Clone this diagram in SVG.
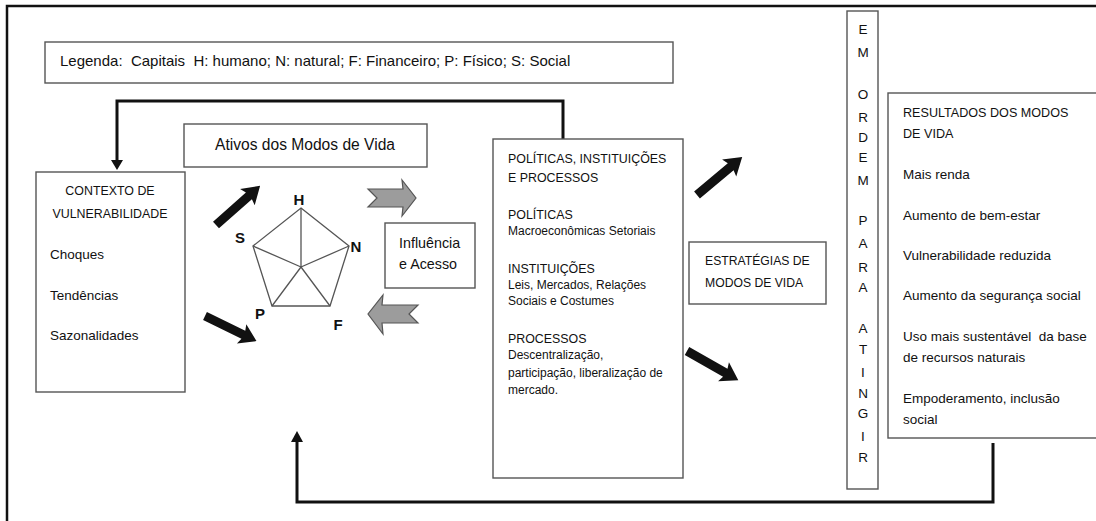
<svg xmlns="http://www.w3.org/2000/svg" width="1096" height="521" viewBox="0 0 1096 521">
<style>
.box{fill:#fff;stroke:#555;stroke-width:1.4}
.t{font-family:"Liberation Sans",Arial,sans-serif;font-size:13.5px;fill:#111}
.u{font-size:12.4px}
.s{font-size:12px}
.b{font-family:"Liberation Sans",Arial,sans-serif;font-size:15px;font-weight:bold;fill:#111}
.fb{fill:none;stroke:#111;stroke-width:3}
.blk{fill:#111}
.gr{fill:#9c9c9c;stroke:#555;stroke-width:1.2}
.pg{fill:none;stroke:#555;stroke-width:1.3}
</style>
<defs>
<path id="blk" d="M0,-4.5 L44,-4.5 L42,-11 L59,0 L42,11 L44,4.5 L0,4.5Z"/>
</defs>
<rect width="1096" height="521" fill="#fff"/>
<g id="frame"><path d="M7,521 L7,6 L1096,6" fill="none" stroke="#111" stroke-width="2.5"/></g>

<g id="connectors">
<path class="fb" d="M563,139 L563,101 L117,101 L117,160"/>
<path d="M111,160 L123,160 L117,170Z" fill="#111"/>
<path class="fb" d="M993,443 L993,502 L297,502 L297,442"/>
<path d="M291,442 L303,442 L297,431Z" fill="#111"/>
<use href="#blk" class="blk" transform="translate(216,225) rotate(-41.6)"/>
<use href="#blk" class="blk" transform="translate(205,316) rotate(26) scale(0.97)"/>
<use href="#blk" class="blk" transform="translate(697,195) rotate(-40)"/>
<use href="#blk" class="blk" transform="translate(687,351) rotate(29.6)"/>
<polygon class="gr" points="368,189 403,189 402,180 416,198 402,216 403,207 368,207 377,198"/>
<polygon class="gr" points="418,305 382,305 383,295 368,314 383,334 382,323 418,323 409,314"/>
</g>

<g id="legenda">
<rect class="box" x="45" y="42" width="628" height="41"/>
<text class="t" x="60" y="66" style="font-size:15px;white-space:pre" xml:space="preserve">Legenda:  Capitais  H: humano; N: natural; F: Financeiro; P: Físico; S: Social</text>
</g>

<g id="ativos">
<rect class="box" x="184" y="124" width="243" height="43"/>
<text class="t" x="305" y="150" text-anchor="middle" style="font-size:15.6px">Ativos dos Modos de Vida</text>
</g>

<g id="contexto">
<rect class="box" x="36" y="172" width="149" height="220"/>
<text class="t u" x="110" y="195" text-anchor="middle">CONTEXTO DE</text>
<text class="t u" x="110" y="218" text-anchor="middle">VULNERABILIDADE</text>
<text class="t" x="50" y="259">Choques</text>
<text class="t" x="50" y="300">Tendências</text>
<text class="t" x="50" y="340">Sazonalidades</text>
</g>

<g id="pentagono">
<polygon class="pg" points="301,208 349,246 330,306 272,306 253,246"/>
<path class="pg" d="M301,267 L301,208 M301,267 L349,246 M301,267 L330,306 M301,267 L272,306 M301,267 L253,246"/>
<text class="b" x="299" y="205" text-anchor="middle">H</text>
<text class="b" x="356" y="252" text-anchor="middle">N</text>
<text class="b" x="338" y="330" text-anchor="middle">F</text>
<text class="b" x="260" y="319" text-anchor="middle">P</text>
<text class="b" x="240" y="243" text-anchor="middle">S</text>
</g>

<g id="influencia">
<rect class="box" x="385" y="223" width="90" height="65"/>
<text class="t" x="399" y="248" style="font-size:14.3px">Influência</text>
<text class="t" x="399" y="269" style="font-size:14.3px">e Acesso</text>
</g>

<g id="politicas">
<rect class="box" x="493" y="139" width="190" height="339"/>
<text class="t u" x="508" y="163">POLÍTICAS, INSTITUIÇÕES</text>
<text class="t u" x="508" y="182">E PROCESSOS</text>
<text class="t u" x="508" y="219">POLÍTICAS</text>
<text class="t s" x="508" y="235">Macroeconômicas Setoriais</text>
<text class="t u" x="508" y="273">INSTITUIÇÕES</text>
<text class="t s" x="508" y="289">Leis, Mercados, Relações</text>
<text class="t s" x="508" y="305">Sociais e Costumes</text>
<text class="t u" x="508" y="343">PROCESSOS</text>
<text class="t s" x="508" y="359">Descentralização,</text>
<text class="t s" x="508" y="377">participação, liberalização de</text>
<text class="t s" x="508" y="394">mercado.</text>
</g>

<g id="estrategias">
<rect class="box" x="689" y="242" width="137" height="62"/>
<text class="t" x="705" y="265" style="font-size:12.2px">ESTRATÉGIAS DE</text>
<text class="t" x="705" y="287" style="font-size:12.2px">MODOS DE VIDA</text>
</g>

<g id="em-ordem">
<rect class="box" x="847" y="11" width="31" height="478"/>
<g class="t" text-anchor="middle">
<text x="863" y="34">E</text>
<text x="863" y="57">M</text>
<text x="863" y="99">O</text>
<text x="863" y="122">R</text>
<text x="863" y="142">D</text>
<text x="863" y="162">E</text>
<text x="863" y="185">M</text>
<text x="863" y="225">P</text>
<text x="863" y="248">A</text>
<text x="863" y="272">R</text>
<text x="863" y="292">A</text>
<text x="863" y="333">A</text>
<text x="863" y="354">T</text>
<text x="863" y="377">I</text>
<text x="863" y="398">N</text>
<text x="863" y="418">G</text>
<text x="863" y="441">I</text>
<text x="863" y="462">R</text>
</g>
</g>

<g id="resultados">
<rect class="box" x="888" y="93" width="215" height="345"/>
<text class="t" x="903" y="117" style="font-size:12.6px">RESULTADOS DOS MODOS</text>
<text class="t" x="903" y="138" style="font-size:12.6px">DE VIDA</text>
<text class="t" x="903" y="179">Mais renda</text>
<text class="t" x="903" y="220">Aumento de bem-estar</text>
<text class="t" x="903" y="260">Vulnerabilidade reduzida</text>
<text class="t" x="903" y="300">Aumento da segurança social</text>
<text class="t" x="903" y="341" style="white-space:pre" xml:space="preserve">Uso mais sustentável  da base</text>
<text class="t" x="903" y="362">de recursos naturais</text>
<text class="t" x="903" y="403">Empoderamento, inclusão</text>
<text class="t" x="903" y="424">social</text>
</g>
</svg>
